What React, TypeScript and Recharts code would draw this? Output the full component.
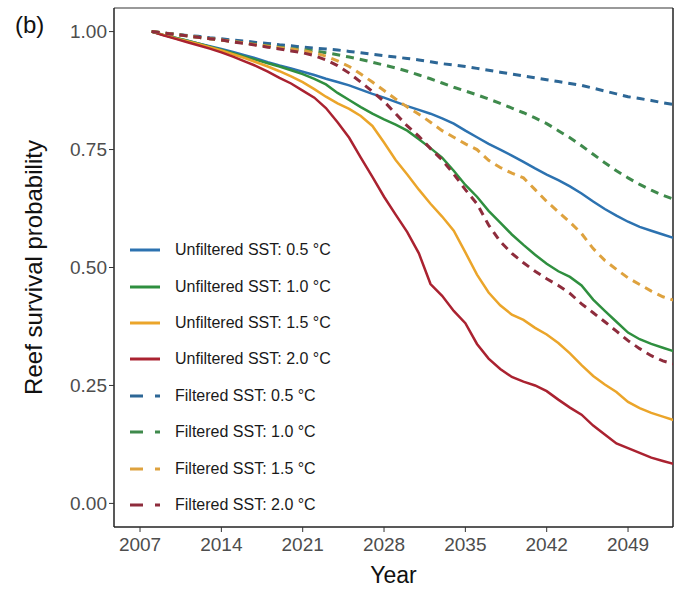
import React from 'react';
import { LineChart, Line, XAxis, YAxis, Legend, ReferenceLine } from 'recharts';

const FONT = '"Liberation Sans", Arial, Helvetica, sans-serif';

// years on the x axis
const years = [
  2008, 2009, 2010, 2011, 2012, 2013, 2014, 2015, 2016, 2017, 2018, 2019,
  2020, 2021, 2022, 2023, 2024, 2025, 2026, 2027, 2028, 2029, 2030, 2031,
  2032, 2033, 2034, 2035, 2036, 2037, 2038, 2039, 2040, 2041, 2042, 2043,
  2044, 2045, 2046, 2047, 2048, 2049, 2050, 2051, 2052, 2053,
];

// unfiltered SST (solid lines)
const unfiltered05 = [
  1.0, 0.993, 0.987, 0.981, 0.975, 0.969, 0.963, 0.957, 0.95, 0.943, 0.935, 0.928,
  0.922, 0.915, 0.908, 0.9, 0.893, 0.886, 0.877, 0.868, 0.86, 0.851, 0.842, 0.834,
  0.826, 0.816, 0.805, 0.79, 0.776, 0.762, 0.75, 0.737, 0.724, 0.71, 0.697, 0.685,
  0.672, 0.657, 0.64, 0.624, 0.61, 0.597, 0.586, 0.578, 0.57, 0.562,
];
const unfiltered10 = [
  1.0, 0.993, 0.987, 0.981, 0.975, 0.968, 0.961, 0.954, 0.947, 0.94, 0.933, 0.926,
  0.918, 0.91, 0.9, 0.888, 0.87, 0.855, 0.84, 0.826, 0.814, 0.803, 0.79, 0.772,
  0.753, 0.733, 0.705, 0.675, 0.65, 0.62, 0.595, 0.57, 0.548, 0.527, 0.508, 0.492,
  0.48, 0.462, 0.432, 0.408, 0.385, 0.362, 0.348, 0.338, 0.33, 0.322,
];
const unfiltered15 = [
  1.0, 0.993, 0.986, 0.98, 0.974, 0.967, 0.96, 0.952, 0.944, 0.935, 0.926, 0.916,
  0.905, 0.893, 0.878, 0.862, 0.848, 0.836, 0.821, 0.8, 0.765, 0.728, 0.697, 0.665,
  0.635, 0.608, 0.578, 0.532, 0.485, 0.447, 0.42, 0.4, 0.389, 0.372, 0.358, 0.34,
  0.318, 0.293, 0.27, 0.252, 0.236, 0.215, 0.202, 0.192, 0.184, 0.176,
];
const unfiltered20 = [
  1.0, 0.992, 0.985, 0.978, 0.971, 0.964, 0.956, 0.947, 0.937, 0.927, 0.915, 0.902,
  0.89, 0.875, 0.86, 0.838, 0.808, 0.775, 0.733, 0.692, 0.65, 0.612, 0.575, 0.53,
  0.465, 0.44, 0.408, 0.382, 0.338, 0.307, 0.285, 0.268, 0.258, 0.25, 0.238, 0.22,
  0.203, 0.188, 0.165, 0.146, 0.127, 0.117, 0.107, 0.097, 0.09, 0.083,
];

// filtered SST (dashed lines)
const filtered05 = [
  1.0, 0.997, 0.995, 0.992, 0.99, 0.987, 0.985, 0.982, 0.98, 0.977, 0.975, 0.972,
  0.97, 0.967, 0.965, 0.963, 0.961, 0.958, 0.955, 0.952, 0.949, 0.946, 0.943, 0.94,
  0.936, 0.932, 0.929, 0.926, 0.922, 0.918, 0.914, 0.91, 0.906, 0.902, 0.898, 0.894,
  0.89, 0.886, 0.88, 0.874, 0.868, 0.862, 0.858, 0.854, 0.849, 0.845,
];
const filtered10 = [
  1.0, 0.997, 0.994, 0.991, 0.988, 0.985, 0.982, 0.979, 0.976, 0.973, 0.97, 0.967,
  0.964, 0.962, 0.959, 0.955, 0.951, 0.946, 0.941, 0.935, 0.929, 0.923, 0.916, 0.908,
  0.9, 0.891, 0.882, 0.874, 0.866, 0.857, 0.848, 0.838, 0.828, 0.817, 0.805, 0.79,
  0.775, 0.758, 0.74, 0.722, 0.705, 0.69, 0.676, 0.664, 0.653, 0.644,
];
const filtered15 = [
  1.0, 0.997, 0.994, 0.991, 0.988, 0.985, 0.982, 0.979, 0.976, 0.972, 0.969, 0.966,
  0.963, 0.96, 0.955, 0.948, 0.938, 0.926, 0.91, 0.893, 0.875, 0.857, 0.84, 0.825,
  0.808, 0.79, 0.776, 0.762, 0.75, 0.727, 0.712, 0.7, 0.69, 0.665, 0.64, 0.618,
  0.596, 0.572, 0.54, 0.515, 0.496, 0.478, 0.464, 0.45, 0.438, 0.43,
];
const filtered20 = [
  1.0, 0.997, 0.994, 0.991, 0.988, 0.985, 0.982, 0.978, 0.975, 0.971, 0.967, 0.963,
  0.959, 0.955, 0.949, 0.94, 0.928, 0.912, 0.893, 0.873, 0.852, 0.826, 0.8, 0.778,
  0.752, 0.728, 0.698, 0.665, 0.635, 0.59, 0.555, 0.53, 0.51, 0.492, 0.476, 0.462,
  0.445, 0.423, 0.404, 0.385, 0.365, 0.345, 0.328, 0.313, 0.302, 0.295,
];

const xTicks = [2007, 2014, 2021, 2028, 2035, 2042, 2049];
const yTicks = [0, 0.25, 0.5, 0.75, 1];

const series = [
  { key: 'u05', name: 'Unfiltered SST: 0.5 °C', values: unfiltered05, color: '#2c72b0', dashed: false },
  { key: 'u10', name: 'Unfiltered SST: 1.0 °C', values: unfiltered10, color: '#2f8f3f', dashed: false },
  { key: 'u15', name: 'Unfiltered SST: 1.5 °C', values: unfiltered15, color: '#eba52a', dashed: false },
  { key: 'u20', name: 'Unfiltered SST: 2.0 °C', values: unfiltered20, color: '#aa2230', dashed: false },
  { key: 'f05', name: 'Filtered SST: 0.5 °C', values: filtered05, color: '#2d6796', dashed: true },
  { key: 'f10', name: 'Filtered SST: 1.0 °C', values: filtered10, color: '#3f8a4c', dashed: true },
  { key: 'f15', name: 'Filtered SST: 1.5 °C', values: filtered15, color: '#dea23e', dashed: true },
  { key: 'f20', name: 'Filtered SST: 2.0 °C', values: filtered20, color: '#8e2c3c', dashed: true },
];

const rows = years.map((year, i) => {
  const row: Record<string, number> = { year };
  series.forEach((s) => {
    row[s.key] = s.values[i];
  });
  return row;
});

const xDomain = [2004.76, 2052.87];
const yDomain = [-0.05, 1.05];

const LegendBox = () => (
  <div style={{ fontFamily: FONT, fontSize: 16, color: '#1a1a1a' }}>
    {series.map((s) => (
      <div key={s.key} style={{ height: 36.4, display: 'flex', alignItems: 'center' }}>
        <svg width={34} height={10}>
          <line
            x1={2}
            y1={5}
            x2={32}
            y2={5}
            stroke={s.color}
            strokeWidth={3}
            strokeDasharray={s.dashed ? '13 12' : undefined}
          />
        </svg>
        <span style={{ marginLeft: 13, whiteSpace: 'nowrap' }}>{s.name}</span>
      </div>
    ))}
  </div>
);

export default function App() {
  return (
    <div style={{ position: 'absolute', left: 0, top: 0, width: 682, height: 597, background: '#fff', fontFamily: FONT }}>
      <div style={{ position: 'absolute', left: 15, top: 13, fontSize: 24, lineHeight: '24px', color: '#111' }}>(b)</div>
      <LineChart width={682} height={597} data={rows} margin={{ top: 8, right: 9, left: 0, bottom: 0 }}>
        <XAxis
          xAxisId="b"
          type="number"
          dataKey="year"
          domain={xDomain}
          ticks={xTicks}
          allowDataOverflow
          height={70}
          tickSize={5}
          tickMargin={6}
          tick={{ fontSize: 19, fill: '#4d4d4d', fontFamily: FONT }}
          axisLine={{ stroke: '#222', strokeWidth: 1.5 }}
          tickLine={{ stroke: '#333' }}
          label={{ value: 'Year', position: 'insideBottom', offset: 14, fontSize: 23, fill: '#111', fontFamily: FONT }}
        />
        <YAxis
          yAxisId="l"
          type="number"
          domain={yDomain}
          ticks={yTicks}
          allowDataOverflow
          width={114}
          tickSize={5}
          tick={{ fontSize: 19, fill: '#4d4d4d', fontFamily: FONT }}
          tickFormatter={(v: number) => v.toFixed(2)}
          axisLine={{ stroke: '#222', strokeWidth: 1.5 }}
          tickLine={{ stroke: '#333' }}
          label={{
            value: 'Reef survival probability',
            angle: -90,
            position: 'insideLeft',
            offset: 33,
            fontSize: 24,
            fill: '#111',
            fontFamily: FONT,
            style: { textAnchor: 'middle' },
          }}
        />
        <ReferenceLine xAxisId="b" yAxisId="l" y={yDomain[1]} stroke="#777" strokeWidth={1.5} ifOverflow="visible" />
        <ReferenceLine xAxisId="b" yAxisId="l" x={xDomain[1]} stroke="#222" strokeWidth={1.5} ifOverflow="visible" />
        {series.map((s) => (
          <Line
            key={s.key}
            xAxisId="b"
            yAxisId="l"
            dataKey={s.key}
            name={s.name}
            type="linear"
            stroke={s.color}
            strokeWidth={s.dashed ? 3 : 2.5}
            strokeDasharray={s.dashed ? '8 6' : undefined}
            dot={false}
            activeDot={false}
            isAnimationActive={false}
          />
        ))}
        <Legend
          layout="vertical"
          align="center"
          verticalAlign="middle"
          content={<LegendBox />}
          wrapperStyle={{ left: 128, top: 232, width: 250 }}
        />
      </LineChart>
    </div>
  );
}
